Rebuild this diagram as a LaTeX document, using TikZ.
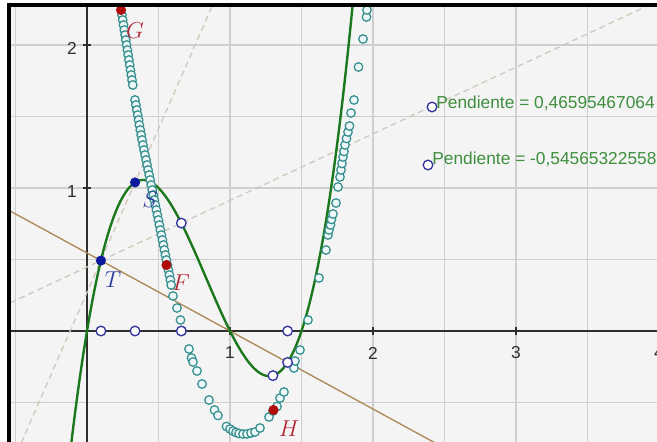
\documentclass[tikz,border=0pt]{standalone}
\usepackage{fontspec}
\setmainfont{Liberation Sans}
\usepackage{xcolor}
\usetikzlibrary{positioning}
\definecolor{Paper}{HTML}{F4F4F4}
\definecolor{GridGray}{HTML}{CFCFCF}
\definecolor{AxisGray}{HTML}{2E2E2E}
\definecolor{CurveGreen}{HTML}{1C781C}
\definecolor{SlopeGreen}{HTML}{3E8E3E}
\definecolor{LineBrown}{HTML}{AD8A55}
\definecolor{DashTan}{HTML}{D2C8BC}
\definecolor{TraceTeal}{HTML}{358F8F}
\definecolor{TraceFill}{HTML}{EEF8F8}
\definecolor{RingBlue}{HTML}{3434A0}
\definecolor{PtBlue}{HTML}{0C1AA0}
\definecolor{PtRed}{HTML}{B00C0C}
\definecolor{LabBlue}{HTML}{2C3A9C}
\definecolor{LabRed}{HTML}{B02838}

\begin{document}
\begin{tikzpicture}[
  x=107.25pt,y=107.25pt,
  gridline/.style={draw=GridGray,line width=0.9pt},
  axisline/.style={draw=AxisGray,line width=1.1pt},
  ticknum/.style={font=\fontsize{13}{15}\selectfont,text=AxisGray,inner sep=0pt},
  curve/.style={draw=CurveGreen,line width=1.8pt},
  secline/.style={draw=LineBrown,line width=1pt},
  dashline/.style={draw=DashTan,line width=1pt,dash pattern=on 4.5pt off 3pt},
  trdot/.style={draw=TraceTeal,fill=TraceFill,line width=0.95pt},
  ring/.style={circle,draw=RingBlue,fill=white,line width=1pt,inner sep=0pt,minimum size=7.2pt},
  ptblue/.style={circle,fill=PtBlue,inner sep=0pt,minimum size=7.6pt},
  ptred/.style={circle,fill=PtRed,inner sep=0pt,minimum size=7.6pt},
  labblue/.style={text=LabBlue,font=\fontsize{16}{18}\selectfont,inner sep=0pt},
  labred/.style={text=LabRed,font=\fontsize{16}{18}\selectfont,inner sep=0pt},
  slopetext/.style={text=SlopeGreen,font=\fontsize{13}{15}\selectfont,inner sep=0pt}
]
\useasboundingbox (-0.60839,-0.77622) rectangle (3.98601,2.31469);

% screen background (pixels)
\begin{scope}[shift={(-0.60839,2.31469)},x=0.75pt,y=-0.75pt]
  \fill[white] (0,0) rectangle (657,442);
  \fill[Paper] (8,4) rectangle (657,442);
\end{scope}

\begin{scope}
\clip (-0.53846,-0.77622) rectangle (3.98601,2.27273);
% grid and axes
\foreach \gx in {-0.5,0.5,1,1.5,2,2.5,3,3.5}
  \draw[gridline] (\gx,-0.8) -- (\gx,2.3);
\foreach \gy in {-0.5,0.5,1,1.5,2}
  \draw[gridline] (-0.6,\gy) -- (4,\gy);
\draw[axisline] (-0.6,0) -- (4,0);
\draw[axisline] (0,-0.8) -- (0,2.3);
\foreach \n in {1,2,3}
  \draw[axisline] (\n,-0.03) -- (\n,0.03);
\foreach \n in {1,2}
  \draw[axisline] (-0.03,\n) -- (0.03,\n);
\foreach \n in {1,2,3,4}
  \node[ticknum] (xn\n) at (\n,-0.154) {\n};
\foreach \n in {1,2}
  \node[ticknum] (yn\n) at (-0.105,\n-0.025) {\n};

% secants through T
\draw[dashline] (-0.6,{0.4924+2.288*(-0.6-0.09725)}) -- (1,{0.4924+2.288*(1-0.09725)});
\draw[dashline] (-0.6,{0.4924+0.46595*(-0.6-0.09725)}) -- (4,{0.4924+0.46595*(4-0.09725)});
\draw[secline] (-0.6,{-0.54565*(-0.6-1)}) -- (4,{-0.54565*(4-1)});

% the function
\draw[curve] plot[domain=-0.14:1.9,samples=160,smooth] (\x,{4*\x*(\x-1)*(\x-1.5)});

% trace of the slope (pixels)
\begin{scope}[shift={(-0.60839,2.31469)},x=0.75pt,y=-0.75pt]
\foreach \px/\py in {122.0/15,122.7/20,123.5/25,124.3/30,125.1/35,125.8/40,126.6/45,
    127.4/50,128.2/55,128.9/60,129.7/65,130.5/70,131.3/75,132.0/80,132.8/85,
    135/100,135.9/105,136.8/110,137.7/115,138.6/120,139.4/125,140.3/130,141.2/135,
    142.1/140,143/145,144/150,145/155,146.1/160,147.1/165,148.1/170,149.2/175,
    150.2/180,151.2/185,152.2/190,153.3/195,154.3/200,155.3/205,156.4/210,
    157.4/215,158.4/220,159.4/225,160.4/230,161.4/235,162.4/240,163.4/245,
    164.4/250,165.4/255,166.4/260,167.4/265,168.4/270,169.4/275,170.4/280,171.2/285,
    173/296,177/308,180.5/320,182/331,189/349,191.5/358,193/362,197/371,202/384,
    209/400,214.5/410,218/415.5,226.5/426.5,230/429,233/431,236/432.5,239/433.5,
    243/434,247/434,251/433,255/432,260/428,269/417,273/411,277/406.5,280/398,
    284/392,294/368,295/361,300/350,308/320,319/278,326/250,328/235,329/230,
    330.5/225,331.5/219.5,333/214,336/203,338/187,340/177,341/170,342/163.5,
    343/157,344/151.5,345/145,346.5/138.5,348/132,349.5/126,351/113,354/100,
    358.5/67,363/39,366.5/17,367/10}
  \draw[trdot] (\px,\py) circle (3.2pt);
\end{scope}

% points
\node[ring] (r1) at (0.09725,0) {};
\node[ring] (r2) at (0.336,0) {};
\node[ring] (r3) at (0.6597,0) {};
\node[ring] (r4) at (1.40275,0) {};
\node[ring] (r5) at (0.6597,0.75458) {};
\node[ring] (r6) at (1.30,-0.312) {};
\node[ring] (r7) at (1.40275,-0.21976) {};
\node[ptblue] (T) at (0.09725,0.4924) {};
\node[ptblue] (S) at (0.336,1.039) {};
\node[ptred] (G) at (0.2378,2.2448) {};
\node[ptred] (F) at (0.5559,0.4615) {};
\node[ptred] (H) at (1.3042,-0.5524) {};
\node[labred] (Glab) at (0.3357,2.0979) {$G$};
\node[labblue] (Slab) at (0.4406,0.9161) {$S$};
\node[labblue] (Tlab) at (0.1818,0.3566) {$T$};
\node[labred] (Flab) at (0.6573,0.3357) {$F$};
\node[labred] (Hlab) at (1.4126,-0.6853) {$H$};

% slope read-outs
\node[ring] (pA) at (2.4126,1.5664) {};
\node[ring] (pB) at (2.3846,1.1608) {};
\node[slopetext,right=-1pt of pA,yshift=3pt] (slopeA) {Pendiente = 0,46595467064};
\node[slopetext,right=-1pt of pB,yshift=4pt] (slopeB) {Pendiente = -0,54565322558};
\end{scope}

% window frame
\begin{scope}[shift={(-0.60839,2.31469)},x=0.75pt,y=-0.75pt]
  \draw[line width=3pt] (8.7,442) -- (8.7,4.7) -- (657,4.7);
\end{scope}
\end{tikzpicture}
\end{document}
